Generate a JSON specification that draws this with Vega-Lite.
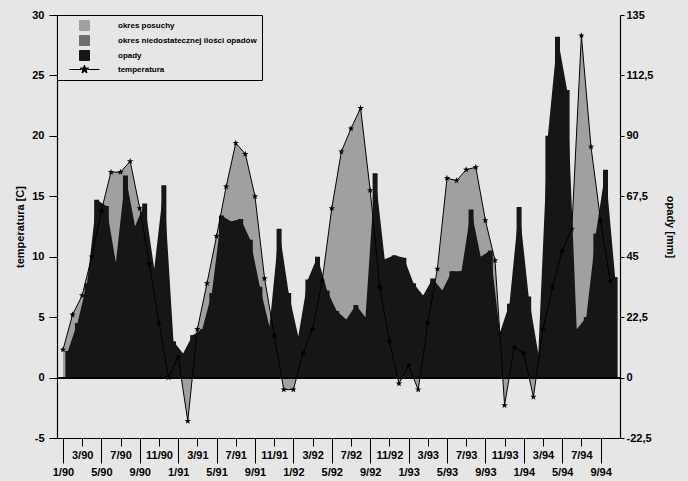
{
  "$schema": "https://vega.github.io/schema/vega-lite/v6.json",
  "width": 563,
  "height": 423,
  "autosize": {"type": "none"},
  "padding": {"left": 57, "top": 15, "right": 68, "bottom": 43},
  "background": "#e6e6e6",
  "config": {
    "view": {"stroke": null},
    "axis": {
      "labelFont": "Liberation Sans", "labelFontWeight": "bold", "labelFontSize": 11, "labelColor": "#000",
      "titleFont": "Liberation Sans", "titleFontWeight": "bold", "titleFontSize": 11, "titleColor": "#000",
      "domainColor": "#000", "tickColor": "#000", "grid": false, "domainWidth": 1.2, "labelFlush": false, "labelOverlap": false
    },
    "legend": {
      "title": null, "orient": "top-left", "offset": 0, "padding": 5, "strokeColor": "#000", "fillColor": "#e6e6e6",
      "symbolSize": 100, "symbolOffset": 17, "labelOffset": 28, "rowPadding": 0,
      "symbolStrokeColor": "#000", "symbolStrokeWidth": 1, "symbolOpacity": 1,
      "labelFont": "Liberation Sans", "labelFontWeight": "bold", "labelFontSize": 8, "labelColor": "#000", "labelLimit": 300
    }
  },
  "data": {"values": [
    {"i": 0, "t": 2.3, "p": 9.9}, {"i": 1, "t": 5.2, "p": 20.3}, {"i": 2, "t": 6.8, "p": 35.1}, {"i": 3, "t": 10.0, "p": 66.2},
    {"i": 4, "t": 13.8, "p": 63.9}, {"i": 5, "t": 17.0, "p": 42.8}, {"i": 6, "t": 17.0, "p": 75.2}, {"i": 7, "t": 17.9, "p": 56.3},
    {"i": 8, "t": 14.0, "p": 64.8}, {"i": 9, "t": 9.4, "p": 40.5}, {"i": 10, "t": 4.5, "p": 71.6}, {"i": 11, "t": 0.0, "p": 13.5},
    {"i": 12, "t": 1.7, "p": 9.0}, {"i": 13, "t": -3.6, "p": 15.8}, {"i": 14, "t": 4.0, "p": 18.0}, {"i": 15, "t": 7.8, "p": 31.5},
    {"i": 16, "t": 11.7, "p": 60.3}, {"i": 17, "t": 15.8, "p": 58.1}, {"i": 18, "t": 19.4, "p": 59.0}, {"i": 19, "t": 18.5, "p": 51.3},
    {"i": 20, "t": 15.0, "p": 33.8}, {"i": 21, "t": 8.2, "p": 18.9}, {"i": 22, "t": 3.5, "p": 55.4}, {"i": 23, "t": -1.0, "p": 31.5},
    {"i": 24, "t": -1.0, "p": 15.3}, {"i": 25, "t": 2.0, "p": 36.5}, {"i": 26, "t": 4.0, "p": 45.0}, {"i": 27, "t": 8.0, "p": 32.4},
    {"i": 28, "t": 14.0, "p": 24.8}, {"i": 29, "t": 18.7, "p": 21.6}, {"i": 30, "t": 20.6, "p": 27.0}, {"i": 31, "t": 22.3, "p": 22.5},
    {"i": 32, "t": 15.5, "p": 76.1}, {"i": 33, "t": 7.5, "p": 44.1}, {"i": 34, "t": 3.0, "p": 45.5}, {"i": 35, "t": -0.5, "p": 44.6},
    {"i": 36, "t": 1.0, "p": 35.1}, {"i": 37, "t": -1.0, "p": 30.6}, {"i": 38, "t": 4.5, "p": 36.9}, {"i": 39, "t": 9.0, "p": 32.4},
    {"i": 40, "t": 16.5, "p": 39.6}, {"i": 41, "t": 16.3, "p": 39.6}, {"i": 42, "t": 17.2, "p": 62.6}, {"i": 43, "t": 17.4, "p": 45.0},
    {"i": 44, "t": 13.0, "p": 47.3}, {"i": 45, "t": 9.7, "p": 16.7}, {"i": 46, "t": -2.3, "p": 27.5}, {"i": 47, "t": 2.5, "p": 63.5},
    {"i": 48, "t": 2.0, "p": 30.2}, {"i": 49, "t": -1.6, "p": 9.0}, {"i": 50, "t": 4.0, "p": 90.0}, {"i": 51, "t": 7.5, "p": 126.9},
    {"i": 52, "t": 10.5, "p": 107.1}, {"i": 53, "t": 12.3, "p": 18.0}, {"i": 54, "t": 28.3, "p": 22.5}, {"i": 55, "t": 19.1, "p": 53.6},
    {"i": 56, "t": 13.0, "p": 77.4}, {"i": 57, "t": 8.0, "p": 37.4}
  ]},
  "layer": [
    {
      "mark": {"type": "area", "opacity": 1},
      "encoding": {
        "x": {"field": "i", "type": "quantitative", "scale": {"domain": [-0.1, 57.5], "nice": false, "zero": false},
          "axis": {"orient": "bottom", "values": [2, 6, 10, 14, 18, 22, 26, 30, 34, 38, 42, 46, 50, 54], "tickSize": 8, "labelPadding": 3,
            "labelExpr": "(datum.value % 12 + 1) + '/' + (90 + floor(datum.value / 12))", "title": null, "labelAngle": 0, "domain": true}},
        "y": {"field": "t", "type": "quantitative", "scale": {"domain": [-5, 30], "nice": false},
          "axis": {"orient": "left", "values": [-5, 0, 5, 10, 15, 20, 25, 30], "tickSize": 8, "labelPadding": 5,
            "title": "temperatura [C]", "titlePadding": 6, "labelExpr": "toString(datum.value)"}},
        "color": {"datum": "okres posuchy", "type": "nominal", "title": null,
          "scale": {"domain": ["okres posuchy", "okres niedostatecznej ilości opadów", "opady", "temperatura"],
                    "range": ["#a0a0a0", "#6e6e6e", "#161616", "#000000"]}}
      }
    },
    {
      "mark": {"type": "area", "xOffset": 4.9, "opacity": 1},
      "encoding": {
        "x": {"field": "i", "type": "quantitative", "scale": {"domain": [-0.1, 57.5], "nice": false, "zero": false},
          "axis": {"orient": "bottom", "values": [0, 4, 8, 12, 16, 20, 24, 28, 32, 36, 40, 44, 48, 52, 56], "tickSize": 25, "labelPadding": 3,
            "labelExpr": "(datum.value % 12 + 1) + '/' + (90 + floor(datum.value / 12))", "title": null, "labelAngle": 0, "domain": true}},
        "y": {"field": "p", "type": "quantitative", "scale": {"domain": [-22.5, 135], "nice": false},
          "axis": {"orient": "right", "values": [-22.5, 0, 22.5, 45, 67.5, 90, 112.5, 135], "tickSize": 4, "labelPadding": 2,
            "title": "opady [mm]", "titlePadding": 12, "labelExpr": "replace(toString(datum.value), '.', ',')"}},
        "color": {"datum": "opady", "type": "nominal", "title": null}
      }
    },
    {
      "mark": {"type": "bar", "xOffset": 4.9, "width": 5, "opacity": 1},
      "encoding": {
        "x": {"field": "i", "type": "quantitative", "scale": {"domain": [-0.1, 57.5], "nice": false, "zero": false}, "axis": null},
        "y": {"field": "p", "type": "quantitative", "scale": {"domain": [-22.5, 135], "nice": false}, "axis": null},
        "color": {"datum": "opady", "type": "nominal", "title": null}
      }
    },
    {
      "mark": {"type": "rule", "color": "#000", "strokeWidth": 1},
      "encoding": {
        "y": {"datum": 0, "type": "quantitative", "scale": {"domain": [-5, 30], "nice": false}, "axis": null}
      }
    },
    {
      "mark": {"type": "line", "strokeWidth": 1},
      "encoding": {
        "x": {"field": "i", "type": "quantitative", "scale": {"domain": [-0.1, 57.5], "nice": false, "zero": false}, "axis": null},
        "y": {"field": "t", "type": "quantitative", "scale": {"domain": [-5, 30], "nice": false}, "axis": null},
        "color": {"datum": "temperatura", "type": "nominal", "title": null}
      }
    },
    {
      "mark": {"type": "point", "filled": true, "opacity": 1, "size": 45,
        "shape": "M0,-1L0.24,-0.33L0.95,-0.31L0.38,0.12L0.59,0.81L0,0.4L-0.59,0.81L-0.38,0.12L-0.95,-0.31L-0.24,-0.33Z"},
      "encoding": {
        "x": {"field": "i", "type": "quantitative", "scale": {"domain": [-0.1, 57.5], "nice": false, "zero": false}, "axis": null},
        "y": {"field": "t", "type": "quantitative", "scale": {"domain": [-5, 30], "nice": false}, "axis": null},
        "color": {"datum": "temperatura", "type": "nominal", "title": null}
      }
    },
    {
      "mark": {"type": "point", "filled": true, "opacity": 0, "size": 0},
      "encoding": {
        "x": {"field": "i", "type": "quantitative", "scale": {"domain": [-0.1, 57.5], "nice": false, "zero": false}, "axis": null},
        "y": {"field": "t", "type": "quantitative", "scale": {"domain": [-5, 30], "nice": false}, "axis": null},
        "color": {"datum": "temperatura", "type": "nominal", "title": null},
        "shape": {"datum": "temperatura", "type": "nominal", "title": null,
          "scale": {"domain": ["okres posuchy", "okres niedostatecznej ilości opadów", "opady", "temperatura"],
                    "range": ["square", "square", "square", "M-3,0H-0.7M0.7,0H3M0,-0.85L0.22,-0.28L0.82,-0.27L0.33,0.1L0.5,0.7L0,0.35L-0.5,0.7L-0.33,0.1L-0.82,-0.27L-0.22,-0.28Z"]}}
      }
    }
  ],
  "resolve": {"scale": {"y": "independent"}, "axis": {"x": "independent"}}
}
